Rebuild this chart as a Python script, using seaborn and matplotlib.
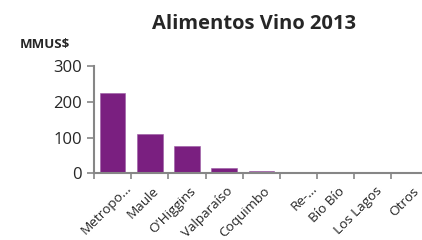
import matplotlib
matplotlib.use("Agg")
import matplotlib.pyplot as plt
import matplotlib.transforms as mtransforms
import seaborn as sns
import numpy as np
import pandas as pd

regiones = ["Metropo...", "Maule", "O'Higgins", "Valparaíso", "Coquimbo",
            "Re-...", "Bío Bío", "Los Lagos", "Otros"]
valores = [224, 109, 75, 15, 6, 0.5, 0.3, 0.2, 0.2]
y_ticks = [0, 100, 200, 300]

sns.set_style("white")
plt.rcParams["font.family"] = ["Open Sans", "DejaVu Sans"]

df = pd.DataFrame({"region": regiones, "valor": valores})

fig = plt.figure(figsize=(4.22, 2.40), dpi=100)
ax = fig.add_axes([94.3 / 422, 1 - 173.3 / 240, (428 - 94.3) / 422, (173.3 - 66) / 240])

sns.barplot(data=df, x="region", y="valor", color="#7A1F80", saturation=1,
            width=0.68, edgecolor="#9A5AA3", linewidth=0.4, ax=ax)

ax.set_xlim(-0.5, len(regiones) - 0.5)
ax.set_ylim(0, 300)
ax.set_yticks(y_ticks)
ax.set_yticklabels([str(t) for t in y_ticks], fontsize=12)
ax.set_xticks(range(len(regiones)))
ax.set_xticklabels(regiones, rotation=45, ha="right", rotation_mode="anchor", fontsize=9.7)
ax.set_xticks(np.arange(-0.5, len(regiones), 1), minor=True)
ax.tick_params(axis="x", which="major", length=0, pad=8, bottom=False)
ax.tick_params(axis="x", which="minor", length=4, width=1.2, color="#868686",
               direction="out", bottom=True)
ax.tick_params(axis="y", length=5, width=1.2, color="#868686", direction="out", pad=4, left=True)
ax.set_xlabel("")
ax.set_ylabel("")

# Excel-style placement: labels end just right of the bar centre,
# truncated ones ("...") a bit further out
for lbl in ax.get_xticklabels():
    if lbl.get_text().endswith("..."):
        dx, dy = 12, 3
    else:
        dx, dy = 2.5, 0
    shift = mtransforms.ScaledTranslation(dx / 100, dy / 100, fig.dpi_scale_trans)
    lbl.set_transform(lbl.get_transform() + shift)

for s in ["top", "right"]:
    ax.spines[s].set_visible(False)
for s in ["left", "bottom"]:
    ax.spines[s].set_color("#868686")
    ax.spines[s].set_linewidth(1.5)

fig.text(254 / 422, 1 - 24 / 240, "Alimentos Vino 2013", ha="center", va="center",
         fontsize=14.5, fontweight="bold")
fig.text(20 / 422, 1 - 44 / 240, "MMUS$", ha="left", va="center",
         fontsize=9.5, fontweight="bold")

fig.savefig("out.png", dpi=100)
